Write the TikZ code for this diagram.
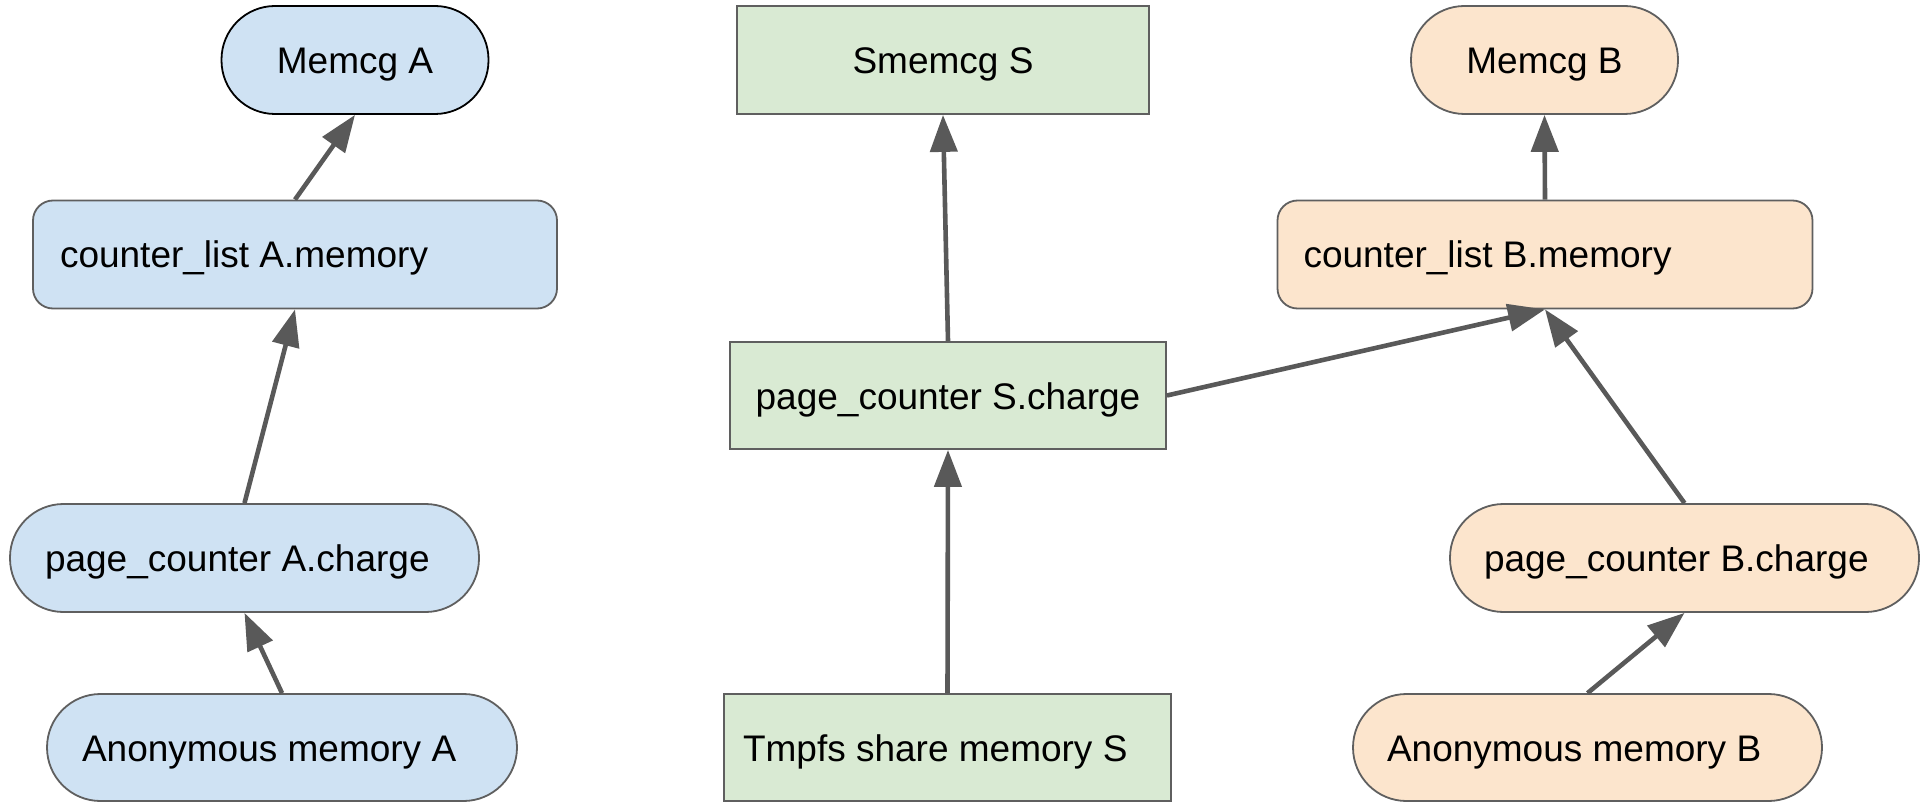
\documentclass[tikz,border=0pt]{standalone}
\usepackage{fontspec}
\setmainfont{Liberation Sans}
\usetikzlibrary{arrows.meta}
\definecolor{fillblue}{HTML}{CFE2F3}
\definecolor{fillgreen}{HTML}{D9EAD3}
\definecolor{fillorange}{HTML}{FCE5CD}
\definecolor{edgegray}{HTML}{5F5F5F}
\definecolor{arrowgray}{HTML}{595959}
\begin{document}
\begin{tikzpicture}[x=1pt,y=-1pt,
  box/.style={draw=edgegray, line width=1.8pt, minimum height=108pt,
    inner ysep=0pt, text height=27pt, text depth=0pt,
    font=\fontsize{37}{44}\selectfont},
  pill/.style={box, rounded corners=53.5pt},
  softbox/.style={box, rounded corners=20pt},
  plainbox/.style={box},
  blue/.style={fill=fillblue},
  green/.style={fill=fillgreen},
  orange/.style={fill=fillorange},
  link/.style={draw=arrowgray, line width=4.6pt,
    -{Triangle[length=37pt,width=27pt]}}
]
\useasboundingbox (0,0) rectangle (1920,802);

% top row: memory cgroups
\node[pill, blue, draw=black, minimum width=267pt, inner xsep=0pt] (memA) at (355,60) {Memcg A};
\node[plainbox, green, minimum width=412pt, inner xsep=0pt] (smS) at (943,60) {Smemcg S};
\node[pill, orange, minimum width=267pt, inner xsep=0pt] (memB) at (1544.5,60) {Memcg B};

% counter lists
\node[softbox, blue, inner xsep=27pt] (clA) at (295,254.5) {\makebox[470pt][l]{counter\_list A.memory}};
\node[softbox, orange, inner xsep=26pt] (clB) at (1545,254.5) {\makebox[483pt][l]{counter\_list B.memory}};

% page counters
\node[plainbox, green, minimum width=436pt, minimum height=107pt, inner xsep=0pt] (pcS) at (948,395.5) {page\_counter S.charge};
\node[pill, blue, inner xsep=35pt] (pcA) at (244.5,558) {\makebox[399pt][l]{page\_counter A.charge}};
\node[pill, orange, inner xsep=34pt] (pcB) at (1684.5,558) {\makebox[401pt][l]{page\_counter B.charge}};

% memory sources
\node[pill, blue, minimum height=107pt, inner xsep=35pt] (anA) at (282,747.5) {\makebox[400pt][l]{Anonymous memory A}};
\node[plainbox, green, minimum height=107pt, inner xsep=19pt] (tmS) at (947.5,747.5) {\makebox[409pt][l]{Tmpfs share memory S}};
\node[pill, orange, minimum height=107pt, inner xsep=34pt] (anB) at (1587.5,747.5) {\makebox[401pt][l]{Anonymous memory B}};

% charging paths
\draw[link] (anA.north) -- (pcA.south);
\draw[link] (pcA.north) -- (clA.south);
\draw[link] (clA.north) -- (memA.south);
\draw[link] (tmS.north) -- (pcS.south);
\draw[link] (pcS.north) -- (smS.south);
\draw[link] (pcS.east) -- (clB.south);
\draw[link] (pcB.north) -- (clB.south);
\draw[link] (anB.north) -- (pcB.south);
\draw[link] (clB.north) -- (memB.south);
\end{tikzpicture}
\end{document}
